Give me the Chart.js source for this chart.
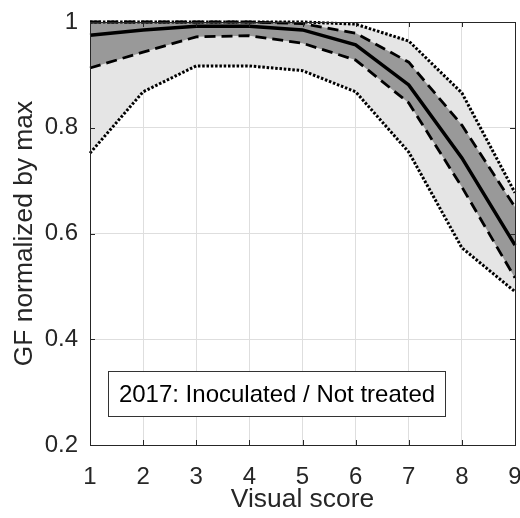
<!DOCTYPE html>
<html>
<head>
<meta charset="utf-8">
<script src="https://cdn.jsdelivr.net/npm/chart.js@4"></script>
<style>
  body { margin: 0; background: #fff; }
  #wrap { width: 520px; height: 518px; }
</style>
</head>
<body>
<div id="wrap"><canvas id="chart"></canvas></div>
<script>
// visual score on the x axis
const scores = [1, 2, 3, 4, 5, 6, 7, 8, 9];
// GF normalized by max
const median     = [0.975, 0.985, 0.992, 0.992, 0.985, 0.957, 0.881, 0.743, 0.578];
const dashUpper  = [1.000, 1.000, 1.000, 1.000, 0.997, 0.979, 0.924, 0.805, 0.650];
const dashLower  = [0.913, 0.943, 0.972, 0.974, 0.960, 0.928, 0.847, 0.688, 0.516];
const dotUpper   = [1.000, 1.000, 1.000, 1.000, 1.000, 0.996, 0.964, 0.866, 0.677];
const dotLower   = [0.752, 0.868, 0.917, 0.917, 0.908, 0.868, 0.754, 0.573, 0.490];
const yTicks     = [0.2, 0.4, 0.6, 0.8, 1];
const boxLabel   = '2017: Inoculated / Not treated';

const FONT = '"Liberation Sans", Arial, Helvetica, sans-serif';
const INK = '#262626';

function pts(vals) {
    return scores.map((x, i) => ({ x: x, y: vals[i] }));
}

function line(label, vals, opts) {
    return Object.assign({
        label: label,
        data: pts(vals),
        borderColor: '#000',
        pointRadius: 0,
        fill: false,
        tension: 0,
        clip: 6
    }, opts);
}

// box around the axes, inward ticks and the text box
const matlabBox = {
    id: 'matlabBox',
    afterDraw(chart) {
        const { ctx, chartArea: a, scales: { x, y } } = chart;
        ctx.save();
        ctx.strokeStyle = INK;
        ctx.lineWidth = 1;
        ctx.beginPath();
        scores.forEach(v => {
            const px = Math.round(x.getPixelForValue(v)) + 0.5;
            ctx.moveTo(px, a.bottom); ctx.lineTo(px, a.bottom - 5);
            ctx.moveTo(px, a.top); ctx.lineTo(px, a.top + 5);
        });
        yTicks.forEach(v => {
            const py = Math.round(y.getPixelForValue(v)) + 0.5;
            ctx.moveTo(a.left, py); ctx.lineTo(a.left + 5, py);
            ctx.moveTo(a.right, py); ctx.lineTo(a.right - 5, py);
        });
        ctx.stroke();
        ctx.strokeRect(Math.round(a.left) + 0.5, Math.round(a.top) + 0.5,
            Math.round(a.right - a.left), Math.round(a.bottom - a.top));

        // legend-like text box
        const bx = 108.5, by = 371.5, bw = 337, bh = 45;
        ctx.fillStyle = '#fff';
        ctx.fillRect(bx, by, bw, bh);
        ctx.strokeStyle = '#333';
        ctx.strokeRect(bx, by, bw, bh);
        ctx.fillStyle = '#000';
        ctx.font = '24px ' + FONT;
        ctx.textAlign = 'center';
        ctx.textBaseline = 'middle';
        ctx.fillText(boxLabel, bx + bw / 2, by + bh / 2 + 1);
        ctx.restore();
    }
};

new Chart(document.getElementById('chart'), {
    type: 'line',
    data: {
        datasets: [
            line('median', median, { borderWidth: 3.5 }),
            line('upper dashed', dashUpper, { borderWidth: 2.8, borderDash: [11, 6], fill: '+1', backgroundColor: '#999999' }),
            line('lower dashed', dashLower, { borderWidth: 2.8, borderDash: [11, 6] }),
            line('upper dotted', dotUpper, { borderWidth: 3, borderDash: [2.5, 1.8], fill: '+1', backgroundColor: '#e5e5e5' }),
            line('lower dotted', dotLower, { borderWidth: 3, borderDash: [2.5, 1.8] })
        ]
    },
    options: {
        responsive: true,
        maintainAspectRatio: false,
        animation: false,
        layout: { padding: { left: 0, right: 5, top: 22, bottom: 0 } },
        plugins: {
            legend: { display: false },
            tooltip: { enabled: false },
            filler: { drawTime: 'beforeDatasetsDraw' }
        },
        scales: {
            x: {
                type: 'linear',
                min: 1, max: 9,
                ticks: { stepSize: 1, color: INK, padding: 18, maxRotation: 0,
                    font: { family: FONT, size: 24 } },
                grid: { color: '#dedede', drawTicks: false },
                border: { display: false },
                title: { display: true, text: 'Visual score', color: INK,
                    padding: { top: 0, bottom: 2 },
                    font: { family: FONT, size: 26.4 } },
                afterFit(s) { s.height = 73; s.paddingLeft = 0; s.paddingRight = 0; }
            },
            y: {
                min: 0.2, max: 1,
                afterBuildTicks(s) { s.ticks = yTicks.map(v => ({ value: v })); },
                ticks: { color: INK, padding: 12,
                    font: { family: FONT, size: 24 },
                    callback: v => String(+v.toFixed(1)) },
                grid: { color: '#dedede', drawTicks: false },
                border: { display: false },
                title: { display: true, text: 'GF normalized by max', color: INK,
                    padding: { top: 9, bottom: 0 },
                    font: { family: FONT, size: 26.4 } },
                afterFit(s) { s.width = 90; s.paddingTop = 0; s.paddingBottom = 0; }
            }
        }
    },
    plugins: [matlabBox]
});
</script>
</body>
</html>
